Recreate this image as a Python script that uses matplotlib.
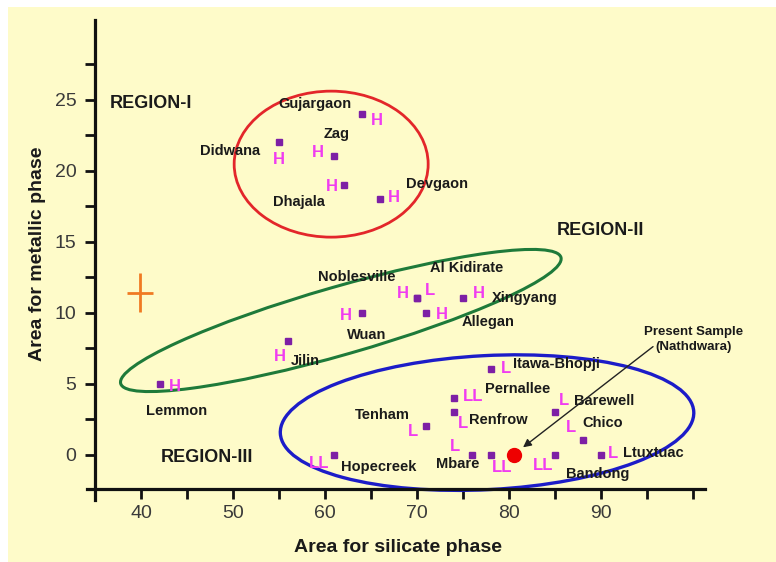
import matplotlib
matplotlib.use("Agg")
import matplotlib.pyplot as plt
from matplotlib.patches import Ellipse, Rectangle
from matplotlib.transforms import ScaledTranslation

plt.rcParams['font.family'] = ['Liberation Sans', 'DejaVu Sans']

# Meteorite samples: area of silicate phase vs area of metallic phase
names = ["Gujargaon", "Didwana", "Zag", "Dhajala", "Devgaon",
         "Lemmon", "Jilin", "Wuan", "Noblesville", "Al Kidirate", "Allegan", "Xingyang",
         "Itawa-Bhopji", "Pernallee", "Renfrow", "Tenham", "Hopecreek", "Mbare", "",
         "Bandong", "Barewell", "Chico", "Ltuxtuac"]
silicate = [64, 55, 61, 62, 66,
            42, 56, 64, 70, 70, 71, 75,
            78, 74, 74, 71, 61, 76, 78,
            85, 85, 88, 90]
metallic = [24, 22, 21, 19, 18,
            5, 8, 10, 11, 11, 10, 11,
            6, 4, 3, 2, 0, 0, 0,
            0, 3, 1, 0]
groups = ["H", "H", "H", "H", "H",
          "H", "H", "H", "H", "L", "H", "H",
          "L", "LL", "L", "L", "LL", "L", "LL",
          "LL", "L", "L", "L"]

present_name = "Present Sample\n(Nathdwara)"
present_silicate = 80.5
present_metallic = 0.0

# typical uncertainty of a measurement
err_center = (39.9, 11.4)
err_silicate = 1.4
err_metallic = 1.35

xticks = [40, 45, 50, 55, 60, 65, 70, 75, 80, 85, 90, 95, 100]
xticklabels = ["40", "", "50", "", "60", "", "70", "", "80", "", "90", "", ""]
yticks = [0, 2.5, 5, 7.5, 10, 12.5, 15, 17.5, 20, 22.5, 25, 27.5]
yticklabels = ["0", "", "5", "", "10", "", "15", "", "20", "", "25", ""]

# placement of the group letter next to each marker (pixels)
letter_offsets = [(15, -7), (0, -17), (-17, 4), (-12, -2), (14, 1),
                  (15, -3), (-9, -16), (-16, -3), (-14, 5), (13, 8), (16, -2), (16, 5),
                  (15, 1), (19, 1), (9, -12), (-13, -5), (-15, -9), (-17, 8), (11, -13),
                  (-12, -11), (9, 11), (-12, 13), (12, 1)]
# placement of each sample name (dx, dy in pixels, horizontal alignment)
name_offsets = [(-47, 10, "center"), (-19, -9, "right"), (2, 22, "center"), (-45, -17, "center"), (26, 15, "left"),
                (17, -27, "center"), (2, -20, "left"), (5, -22, "center"), (-60, 21, "center"), (49, 30, "center"),
                (62, -9, "center"), (29, 0, "left"),
                (22, 5, "left"), (31, 9, "left"), (15, -8, "left"), (-17, 11, "right"), (7, -12, "left"),
                (7, -9, "right"), (0, 0, "left"),
                (11, -19, "left"), (19, 11, "left"), (0, 17, "left"), (22, 2, "left")]

BG = "#FEFBC9"
INK = "#1a1a1a"
MARKER = "#7D1FA5"
LETTER = "#F03CF0"

fig = plt.figure(figsize=(7.76, 5.62), dpi=100, facecolor="white")
fig.patches.append(Rectangle((8 / 776, 0), 1 - 8 / 776, 1 - 7 / 562, transform=fig.transFigure,
                             facecolor=BG, edgecolor="none", zorder=-10))

ax = fig.add_axes([87 / 776, 62 / 562, 618 / 776, 480 / 562])
ax.patch.set_alpha(0)
ax.set_xlim(34.1, 101.3)
ax.set_ylim(-3.2, 30.6)

for side in ("top", "right"):
    ax.spines[side].set_visible(False)
ax.spines["left"].set_position(("data", 35))
ax.spines["bottom"].set_position(("data", -2.4))
ax.spines["left"].set_bounds(-3.2, 30.6)
ax.spines["bottom"].set_bounds(34.1, 101.3)
for side in ("left", "bottom"):
    ax.spines[side].set_linewidth(2.3)
    ax.spines[side].set_color("#111111")

ax.set_xticks(xticks)
ax.set_xticklabels(xticklabels)
ax.set_yticks(yticks)
ax.set_yticklabels(yticklabels)
ax.tick_params(axis="both", direction="out", length=7.5, width=2, color="#111111",
               labelsize=14, labelcolor="#3a3a3a")
ax.tick_params(axis="x", pad=4)
ax.tick_params(axis="y", pad=6)


def ring(cx, cy, w_px, h_px, angle, color, lw):
    tr = ScaledTranslation(cx, cy, ax.transData)
    ax.add_patch(Ellipse((0, 0), w_px, h_px, angle=angle, transform=tr,
                         facecolor="none", edgecolor=color, linewidth=lw, zorder=2))


ring(60.65, 20.45, 194, 146, 0, "#E3262A", 2.0)
ring(61.7, 9.44, 458, 68, 16, "#1E7A3A", 2.2)
ring(77.6, 2.25, 414, 134, 3, "#1C1CC8", 2.4)

ax.plot(silicate, metallic, ls="none", marker="s", ms=5, color=MARKER, zorder=4)

for i in range(len(names)):
    lx, ly = letter_offsets[i]
    ax.annotate(groups[i], (silicate[i], metallic[i]), xytext=(lx, ly), textcoords="offset pixels",
                ha="center", va="center", fontsize=12, fontweight="bold", color=LETTER, zorder=5)
    if names[i]:
        nx, ny, ha = name_offsets[i]
        ax.annotate(names[i], (silicate[i], metallic[i]), xytext=(nx, ny), textcoords="offset pixels",
                    ha=ha, va="center", fontsize=10.5, fontweight="bold", color=INK, zorder=5)

ax.plot([present_silicate], [present_metallic], ls="none", marker="o", ms=10,
        color="#EE0000", zorder=6)
ax.annotate("", xy=(present_silicate, present_metallic), xytext=(95.65, 7.6),
            arrowprops=dict(arrowstyle="-|>", color="#222222", lw=1.0, shrinkA=0, shrinkB=8.5,
                            mutation_scale=12), zorder=5)
ax.text(100.1, 8.1, present_name, ha="center", va="center", fontsize=9.5, fontweight="bold",
        color=INK, linespacing=1.3)

ax.errorbar([err_center[0]], [err_center[1]], xerr=err_silicate, yerr=err_metallic,
            fmt="none", ecolor="#F07A22", elinewidth=2, capsize=0, zorder=4)

ax.text(41.1, 24.7, "REGION-I", ha="center", va="center", fontsize=13, fontweight="bold", color=INK)
ax.text(89.9, 15.8, "REGION-II", ha="center", va="center", fontsize=13, fontweight="bold", color=INK)
ax.text(47.1, -0.2, "REGION-III", ha="center", va="center", fontsize=13, fontweight="bold", color=INK)

fig.text(398 / 776, 1 - 548 / 562, "Area for silicate phase", ha="center", va="center",
         fontsize=14, fontweight="bold", color=INK)
fig.text(38 / 776, 1 - 254 / 562, "Area for metallic phase", ha="center", va="center",
         rotation=90, fontsize=14, fontweight="bold", color=INK)

fig.savefig("out.png", dpi=100, facecolor=fig.get_facecolor())
